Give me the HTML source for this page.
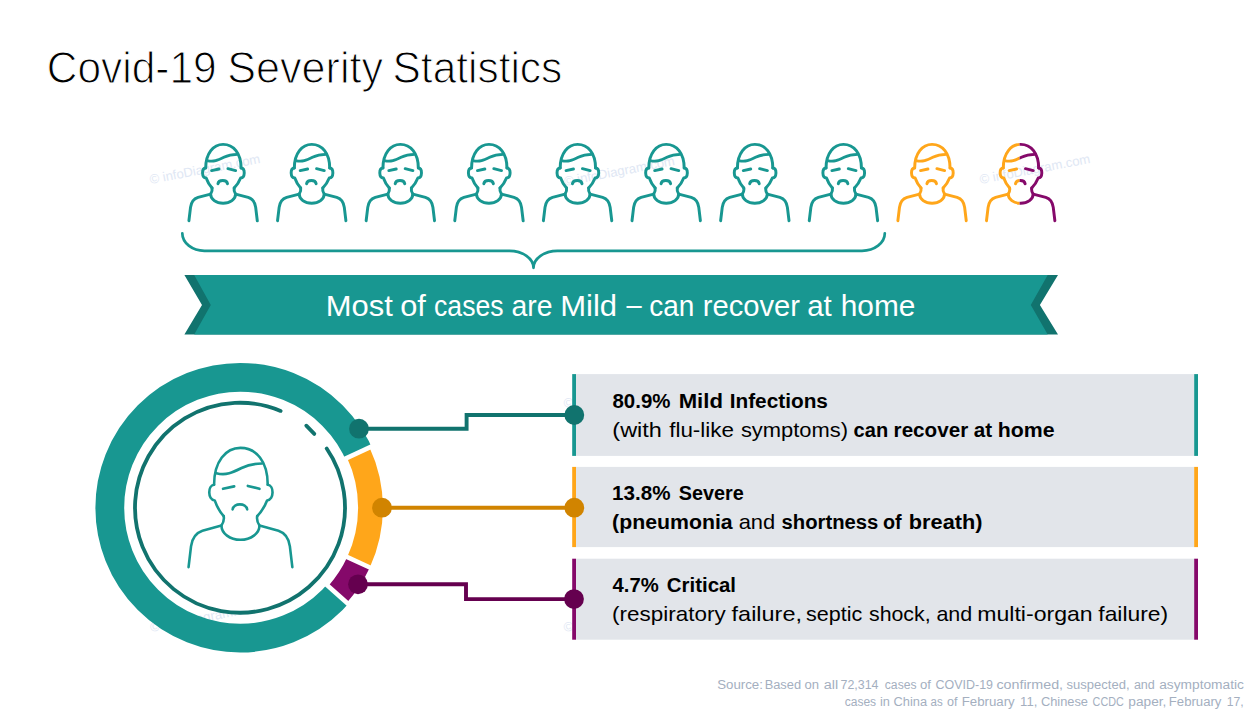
<!DOCTYPE html>
<html><head><meta charset="utf-8">
<style>
html,body{margin:0;padding:0;background:#fff;}
body{width:1249px;height:715px;overflow:hidden;font-family:"Liberation Sans",sans-serif;}
svg{display:block;position:absolute;left:0;top:0;}
text{font-family:"Liberation Sans",sans-serif;}
.b{font-weight:bold;}
</style></head>
<body>
<svg width="1249" height="715" viewBox="0 0 1249 715">
<defs>
  <g id="person" fill="none" stroke-linecap="round" stroke-linejoin="round">
    <path d="M83,613 L94,520 C99,480 115,460 145,450 L230,427"/>
    <path d="M240,385 C243,400 238,415 230,427 A85,64 0 0 0 400,427 C392,415 387,400 390,385"/>
    <path d="M400,427 L485,450 C515,460 531,480 536,520 L547,613"/>
    <path d="M197,245 C197,140 250,80 315,80 C385,80 437,140 437,245"/>
    <path d="M197,245 C168,247 168,313 200,315 Q214,356 240,385"/>
    <path d="M437,245 C466,247 466,313 434,315 Q418,356 390,385"/>
    <path d="M207,193 C250,205 280,190 320,170 C350,155 380,150 412,150"/>
    <path d="M237,263 L287,252 M348,250 L400,263"/>
    <path d="M280,355 C285,325 340,325 345,355"/>
  </g>
  <clipPath id="clipL"><rect x="0" y="0" width="308" height="700"/></clipPath>
  <clipPath id="clipR"><rect x="308" y="0" width="400" height="700"/></clipPath>
</defs>

<!-- watermarks -->
<g fill="#e0e7f4" font-size="13.1">
  <text transform="translate(150.5,184) rotate(-10.8)">© infoDiagram.com</text>
  <text transform="translate(565,186) rotate(-10.8)">© infoDiagram.com</text>
  <text transform="translate(980.5,184) rotate(-10.8)">© infoDiagram.com</text>
  <text transform="translate(151,632) rotate(-10.8)">© infoDiagram.com</text>
  <text transform="translate(564.5,408) rotate(-10.8)">© infoDiagram.com</text>
  <text transform="translate(564.5,632) rotate(-10.8)">© infoDiagram.com</text>
</g>

<!-- title (in TXT block) -->

<!-- icons row -->
<g id="row" stroke-width="20">
  <use href="#person" stroke="#189791" transform="translate(176.67,132.86) scale(0.1474,0.14341)"/>
  <use href="#person" stroke="#189791" transform="translate(265.29,132.86) scale(0.1474,0.14341)"/>
  <use href="#person" stroke="#189791" transform="translate(353.91,132.86) scale(0.1474,0.14341)"/>
  <use href="#person" stroke="#189791" transform="translate(442.53,132.86) scale(0.1474,0.14341)"/>
  <use href="#person" stroke="#189791" transform="translate(531.15,132.86) scale(0.1474,0.14341)"/>
  <use href="#person" stroke="#189791" transform="translate(619.77,132.86) scale(0.1474,0.14341)"/>
  <use href="#person" stroke="#189791" transform="translate(708.39,132.86) scale(0.1474,0.14341)"/>
  <use href="#person" stroke="#189791" transform="translate(797.01,132.86) scale(0.1474,0.14341)"/>
  <use href="#person" stroke="#ffa61a" transform="translate(885.63,132.86) scale(0.1474,0.14341)"/>
  <g transform="translate(974.25,132.86) scale(0.1474,0.14341)">
    <g clip-path="url(#clipL)"><use href="#person" stroke="#ffa61a"/></g>
    <g clip-path="url(#clipR)"><use href="#person" stroke="#85096a"/></g>
  </g>
</g>

<!-- brace -->
<path d="M182.3,233.3 A22.1,17.5 0 0 0 204.4,250.8 H509.5 A24,17 0 0 1 533.5,267.8 A23.9,17 0 0 1 557.4,250.8 H862 A22.8,17.5 0 0 0 884.8,233.3" fill="none" stroke="#189791" stroke-width="2.7" stroke-linecap="round" stroke-linejoin="round"/>

<!-- banner -->
<polygon points="184.4,275 1058,275 1039.9,305.1 1058,334.6 184.4,334.6 202,305.1" fill="#11736e"/>
<polygon points="194.2,275 1047.7,275 1030.8,305.1 1047.7,334.6 194.2,334.6 210.8,305.1" fill="#189791"/>

<!-- donut -->
<g fill="none">
  <circle cx="240.2" cy="507.7" r="130.4" stroke="#189791" stroke-width="28.8"/>
  <!-- white backing for coloured segments: -25deg .. 41.7deg -->
  <path d="M358.38,452.59 A130.4,130.4 0 0 1 337.56,594.45" stroke="#fff" stroke-width="32"/>
  <!-- orange -25 .. 24.75 -->
  <path d="M358.29,452.63 A130.3,130.3 0 0 1 358.53,562.25" stroke="#ffa61a" stroke-width="24.8"/>
  <!-- purple 24.75 .. 41.7 -->
  <path d="M358.53,562.25 A130.3,130.3 0 0 1 337.49,594.38" stroke="#85096a" stroke-width="24.8"/>
</g>
<!-- white separators -->
<g stroke="#fff" stroke-width="4.6">
  <line x1="341.7" y1="460.37" x2="376.14" y2="444.31"/>
  <line x1="341.91" y1="554.59" x2="376.42" y2="570.5"/>
  <line x1="323.82" y1="582.21" x2="352.2" y2="607.49"/>
</g>
<!-- inner thin ring -->
<circle cx="239.4" cy="507.7" r="105" fill="#fff"/>
<path d="M326.7,448.5 A105,105 0 1 1 280.6,410.9" fill="none" stroke="#11736e" stroke-width="3.8" stroke-linecap="round"/>
<path d="M306.3,425.7 L314.3,433.9" fill="none" stroke="#11736e" stroke-width="3.8" stroke-linecap="round"/>

<!-- big person -->
<use href="#person" stroke="#189791" stroke-width="11.6" transform="translate(170,430) scale(0.22366)"/>

<!-- boxes -->
<rect x="576" y="374.1" width="618.5" height="81.8" fill="#e2e5ea"/>
<rect x="576" y="466.9" width="618.5" height="80.2" fill="#e2e5ea"/>
<rect x="576" y="558.7" width="618.5" height="81" fill="#e2e5ea"/>
<rect x="572.2" y="374.1" width="3.8" height="81.8" fill="#189791"/>
<rect x="1194.2" y="374.1" width="3.8" height="81.8" fill="#189791"/>
<rect x="572.2" y="466.9" width="3.8" height="80.2" fill="#ffa61a"/>
<rect x="1194.2" y="466.9" width="3.8" height="80.2" fill="#ffa61a"/>
<rect x="572.2" y="558.7" width="3.8" height="81" fill="#85096a"/>
<rect x="1194.2" y="558.7" width="3.8" height="81" fill="#85096a"/>

<!-- connectors -->
<g fill="none" stroke-width="3.9" stroke-linejoin="miter">
  <path d="M359,428.8 H466.6 V415 H574.3" stroke="#11736e"/>
  <path d="M382,507.7 H574.3" stroke="#d18400"/>
  <path d="M358,584.3 H466 V599.1 H574" stroke="#65004f"/>
</g>
<circle cx="359" cy="428.7" r="9.9" fill="#11736e"/>
<circle cx="574.3" cy="415" r="9.9" fill="#11736e"/>
<circle cx="382" cy="507.7" r="9.9" fill="#d18400"/>
<circle cx="574.3" cy="507.7" r="9.9" fill="#d18400"/>
<circle cx="358" cy="584.3" r="9.9" fill="#65004f"/>
<circle cx="574" cy="599.1" r="9.9" fill="#65004f"/>

<!-- TXT-BEGIN -->
<text x="46.87" y="82.50" font-size="44.0" fill="#000" stroke="#fff" stroke-width="1.1" textLength="169.85" lengthAdjust="spacingAndGlyphs" xml:space="preserve">Covid-19</text>
<text x="227.34" y="82.50" font-size="44.0" fill="#000" stroke="#fff" stroke-width="1.1" textLength="155.66" lengthAdjust="spacingAndGlyphs" xml:space="preserve">Severity</text>
<text x="392.57" y="82.50" font-size="44.0" fill="#000" stroke="#fff" stroke-width="1.1" textLength="169.69" lengthAdjust="spacingAndGlyphs" xml:space="preserve">Statistics</text>
<text x="325.84" y="315.70" font-size="28.7" fill="#fff" textLength="67.02" lengthAdjust="spacingAndGlyphs" xml:space="preserve">Most</text>
<text x="400.23" y="315.70" font-size="28.7" fill="#fff" textLength="25.67" lengthAdjust="spacingAndGlyphs" xml:space="preserve">of</text>
<text x="434.07" y="315.70" font-size="28.7" fill="#fff" textLength="69.55" lengthAdjust="spacingAndGlyphs" xml:space="preserve">cases</text>
<text x="511.51" y="315.70" font-size="28.7" fill="#fff" textLength="41.03" lengthAdjust="spacingAndGlyphs" xml:space="preserve">are</text>
<text x="560.24" y="315.70" font-size="28.7" fill="#fff" textLength="56.90" lengthAdjust="spacingAndGlyphs" xml:space="preserve">Mild</text>
<text x="649.22" y="315.70" font-size="28.7" fill="#fff" textLength="45.11" lengthAdjust="spacingAndGlyphs" xml:space="preserve">can</text>
<text x="702.78" y="315.70" font-size="28.7" fill="#fff" textLength="97.26" lengthAdjust="spacingAndGlyphs" xml:space="preserve">recover</text>
<text x="807.17" y="315.70" font-size="28.7" fill="#fff" textLength="24.60" lengthAdjust="spacingAndGlyphs" xml:space="preserve">at</text>
<text x="840.76" y="315.70" font-size="28.7" fill="#fff" textLength="74.63" lengthAdjust="spacingAndGlyphs" xml:space="preserve">home</text>
<text x="626.50" y="314.70" font-size="28.7" fill="#fff" textLength="15.16" lengthAdjust="spacingAndGlyphs" xml:space="preserve">–</text>
<text x="612.50" y="407.70" font-size="21.1" font-weight="bold" fill="#000" textLength="57.96" lengthAdjust="spacingAndGlyphs" xml:space="preserve">80.9%</text>
<text x="678.65" y="407.70" font-size="21.1" font-weight="bold" fill="#000" textLength="44.28" lengthAdjust="spacingAndGlyphs" xml:space="preserve">Mild</text>
<text x="729.71" y="407.70" font-size="21.1" font-weight="bold" fill="#000" textLength="98.21" lengthAdjust="spacingAndGlyphs" xml:space="preserve">Infections</text>
<text x="612.39" y="436.50" font-size="21.1" fill="#000" textLength="49.53" lengthAdjust="spacingAndGlyphs" xml:space="preserve">(with</text>
<text x="669.20" y="436.50" font-size="21.1" fill="#000" textLength="64.78" lengthAdjust="spacingAndGlyphs" xml:space="preserve">flu-like</text>
<text x="740.90" y="436.50" font-size="21.1" fill="#000" textLength="107.06" lengthAdjust="spacingAndGlyphs" xml:space="preserve">symptoms)</text>
<text x="853.60" y="436.50" font-size="21.1" font-weight="bold" fill="#000" textLength="34.54" lengthAdjust="spacingAndGlyphs" xml:space="preserve">can</text>
<text x="893.62" y="436.50" font-size="21.1" font-weight="bold" fill="#000" textLength="74.58" lengthAdjust="spacingAndGlyphs" xml:space="preserve">recover</text>
<text x="973.70" y="436.50" font-size="21.1" font-weight="bold" fill="#000" textLength="18.32" lengthAdjust="spacingAndGlyphs" xml:space="preserve">at</text>
<text x="997.69" y="436.50" font-size="21.1" font-weight="bold" fill="#000" textLength="56.84" lengthAdjust="spacingAndGlyphs" xml:space="preserve">home</text>
<text x="612.12" y="500.40" font-size="21.1" font-weight="bold" fill="#000" textLength="58.34" lengthAdjust="spacingAndGlyphs" xml:space="preserve">13.8%</text>
<text x="678.80" y="500.40" font-size="21.1" font-weight="bold" fill="#000" textLength="65.05" lengthAdjust="spacingAndGlyphs" xml:space="preserve">Severe</text>
<text x="612.09" y="528.90" font-size="21.1" font-weight="bold" fill="#000" textLength="120.64" lengthAdjust="spacingAndGlyphs" xml:space="preserve">(pneumonia</text>
<text x="738.70" y="528.90" font-size="21.1" fill="#000" textLength="36.56" lengthAdjust="spacingAndGlyphs" xml:space="preserve">and</text>
<text x="781.50" y="528.90" font-size="21.1" font-weight="bold" fill="#000" textLength="96.80" lengthAdjust="spacingAndGlyphs" xml:space="preserve">shortness</text>
<text x="883.00" y="528.90" font-size="21.1" font-weight="bold" fill="#000" textLength="18.68" lengthAdjust="spacingAndGlyphs" xml:space="preserve">of</text>
<text x="908.87" y="528.90" font-size="21.1" font-weight="bold" fill="#000" textLength="73.58" lengthAdjust="spacingAndGlyphs" xml:space="preserve">breath)</text>
<text x="612.50" y="592.10" font-size="21.1" font-weight="bold" fill="#000" textLength="46.17" lengthAdjust="spacingAndGlyphs" xml:space="preserve">4.7%</text>
<text x="666.80" y="592.10" font-size="21.1" font-weight="bold" fill="#000" textLength="69.23" lengthAdjust="spacingAndGlyphs" xml:space="preserve">Critical</text>
<text x="612.14" y="620.60" font-size="21.1" fill="#000" textLength="113.48" lengthAdjust="spacingAndGlyphs" xml:space="preserve">(respiratory</text>
<text x="731.60" y="620.60" font-size="21.1" fill="#000" textLength="70.37" lengthAdjust="spacingAndGlyphs" xml:space="preserve">failure,</text>
<text x="806.10" y="620.60" font-size="21.1" fill="#000" textLength="56.26" lengthAdjust="spacingAndGlyphs" xml:space="preserve">septic</text>
<text x="869.00" y="620.60" font-size="21.1" fill="#000" textLength="61.58" lengthAdjust="spacingAndGlyphs" xml:space="preserve">shock,</text>
<text x="936.40" y="620.60" font-size="21.1" fill="#000" textLength="35.84" lengthAdjust="spacingAndGlyphs" xml:space="preserve">and</text>
<text x="977.31" y="620.60" font-size="21.1" fill="#000" textLength="115.39" lengthAdjust="spacingAndGlyphs" xml:space="preserve">multi-organ</text>
<text x="1098.30" y="620.60" font-size="21.1" fill="#000" textLength="69.81" lengthAdjust="spacingAndGlyphs" xml:space="preserve">failure)</text>
<text x="717.20" y="688.70" font-size="12.3" fill="#a4afbf" textLength="45.75" lengthAdjust="spacingAndGlyphs" xml:space="preserve">Source:</text>
<text x="764.65" y="688.70" font-size="12.3" fill="#a4afbf" textLength="36.48" lengthAdjust="spacingAndGlyphs" xml:space="preserve">Based</text>
<text x="804.50" y="688.70" font-size="12.3" fill="#a4afbf" textLength="14.53" lengthAdjust="spacingAndGlyphs" xml:space="preserve">on</text>
<text x="823.70" y="688.70" font-size="12.3" fill="#a4afbf" textLength="14.46" lengthAdjust="spacingAndGlyphs" xml:space="preserve">all</text>
<text x="840.50" y="688.70" font-size="12.3" fill="#a4afbf" textLength="38.04" lengthAdjust="spacingAndGlyphs" xml:space="preserve">72,314</text>
<text x="884.80" y="688.70" font-size="12.3" fill="#a4afbf" textLength="31.75" lengthAdjust="spacingAndGlyphs" xml:space="preserve">cases</text>
<text x="920.00" y="688.70" font-size="12.3" fill="#a4afbf" textLength="10.98" lengthAdjust="spacingAndGlyphs" xml:space="preserve">of</text>
<text x="935.60" y="688.70" font-size="12.3" fill="#a4afbf" textLength="57.44" lengthAdjust="spacingAndGlyphs" xml:space="preserve">COVID-19</text>
<text x="996.40" y="688.70" font-size="12.3" fill="#a4afbf" textLength="66.68" lengthAdjust="spacingAndGlyphs" xml:space="preserve">confirmed,</text>
<text x="1066.60" y="688.70" font-size="12.3" fill="#a4afbf" textLength="62.94" lengthAdjust="spacingAndGlyphs" xml:space="preserve">suspected,</text>
<text x="1133.90" y="688.70" font-size="12.3" fill="#a4afbf" textLength="20.94" lengthAdjust="spacingAndGlyphs" xml:space="preserve">and</text>
<text x="1159.20" y="688.70" font-size="12.3" fill="#a4afbf" textLength="84.77" lengthAdjust="spacingAndGlyphs" xml:space="preserve">asymptomatic</text>
<text x="844.70" y="705.70" font-size="12.3" fill="#a4afbf" textLength="31.45" lengthAdjust="spacingAndGlyphs" xml:space="preserve">cases</text>
<text x="880.00" y="705.70" font-size="12.3" fill="#a4afbf" textLength="9.93" lengthAdjust="spacingAndGlyphs" xml:space="preserve">in</text>
<text x="893.60" y="705.70" font-size="12.3" fill="#a4afbf" textLength="33.53" lengthAdjust="spacingAndGlyphs" xml:space="preserve">China</text>
<text x="930.50" y="705.70" font-size="12.3" fill="#a4afbf" textLength="12.14" lengthAdjust="spacingAndGlyphs" xml:space="preserve">as</text>
<text x="946.90" y="705.70" font-size="12.3" fill="#a4afbf" textLength="10.50" lengthAdjust="spacingAndGlyphs" xml:space="preserve">of</text>
<text x="961.72" y="705.70" font-size="12.3" fill="#a4afbf" textLength="52.96" lengthAdjust="spacingAndGlyphs" xml:space="preserve">February</text>
<text x="1020.10" y="705.70" font-size="12.3" fill="#a4afbf" textLength="17.24" lengthAdjust="spacingAndGlyphs" xml:space="preserve">11,</text>
<text x="1040.90" y="705.70" font-size="12.3" fill="#a4afbf" textLength="47.13" lengthAdjust="spacingAndGlyphs" xml:space="preserve">Chinese</text>
<text x="1092.60" y="705.70" font-size="12.3" fill="#a4afbf" textLength="31.19" lengthAdjust="spacingAndGlyphs" xml:space="preserve">CCDC</text>
<text x="1128.30" y="705.70" font-size="12.3" fill="#a4afbf" textLength="38.06" lengthAdjust="spacingAndGlyphs" xml:space="preserve">paper,</text>
<text x="1168.83" y="705.70" font-size="12.3" fill="#a4afbf" textLength="52.56" lengthAdjust="spacingAndGlyphs" xml:space="preserve">February</text>
<text x="1226.70" y="705.70" font-size="12.3" fill="#a4afbf" textLength="17.01" lengthAdjust="spacingAndGlyphs" xml:space="preserve">17,</text>
<!-- TXT-END -->
</svg>
</body></html>
